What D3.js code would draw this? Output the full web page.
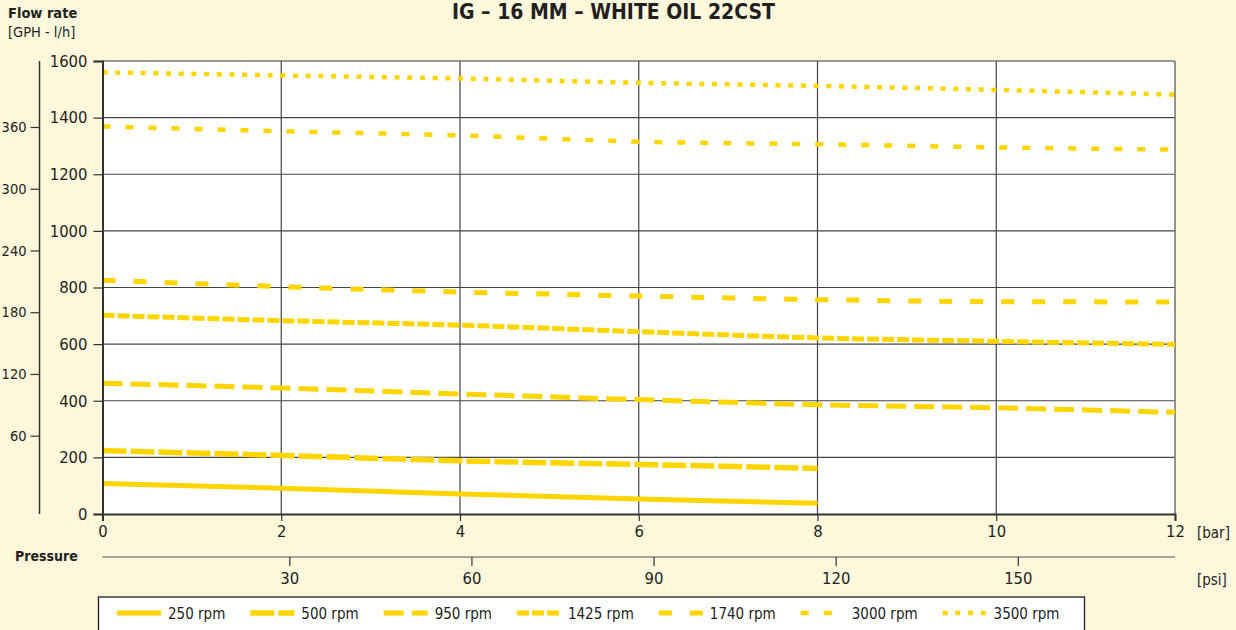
<!DOCTYPE html>
<html>
<head>
<meta charset="utf-8">
<script src="https://cdn.jsdelivr.net/npm/d3@7"></script>
<style>
  body { margin: 0; background: #fdf7dc; }
  svg { display: block; }
  text { font-family: "Liberation Sans Narrow", "Arial Narrow", "DejaVu Sans Condensed", sans-serif; fill: #231f20; }
</style>
</head>
<body>
<div id="chart"></div>
<script>
// pressure in bar, flow in l/h
var barTicks = [0, 2, 4, 6, 8, 10, 12];
var flowTicks = [0, 200, 400, 600, 800, 1000, 1200, 1400, 1600];
var gphTicks = [60, 120, 180, 240, 300, 360];
var psiTicks = [30, 60, 90, 120, 150];

var pressShort = [0, 2, 4, 6, 8];
var pressLong = [0, 2, 4, 6, 8, 10, 12];

var rpm = ["250 rpm", "500 rpm", "950 rpm", "1425 rpm", "1740 rpm", "3000 rpm", "3500 rpm"];
var flow250 = [108, 91, 71, 53, 38];
var flow500 = [224, 207, 188, 175, 161];
var flow950 = [462, 445, 424, 404, 386, 375, 359];
var flow1425 = [702, 683, 667, 644, 622, 610, 599];
var flow1740 = [826, 803, 784, 770, 757, 750, 749];
var flow3000 = [1369, 1352, 1337, 1315, 1306, 1295, 1287];
var flow3500 = [1560, 1549, 1538, 1523, 1512, 1498, 1481];

var yellow = "#ffd500";
var dashes = [null, "24,4", "20,8", "12,3", "13,18", "8,15", "5,7.7"];
var widths = [5, 5.5, 5, 5, 5, 4.5, 4.5];

var series = [
  { x: pressShort, y: flow250 },
  { x: pressShort, y: flow500 },
  { x: pressLong, y: flow950 },
  { x: pressLong, y: flow1425 },
  { x: pressLong, y: flow1740 },
  { x: pressLong, y: flow3000 },
  { x: pressLong, y: flow3500 }
];

var w = 1236;
var h = 630;

const x = d3.scaleLinear().domain([0, 12]).range([102.5, 1175]);
const y = d3.scaleLinear().domain([0, 1600]).range([514, 61]);
const gph = d3.scaleLinear().domain([60, 360]).range([435.7, 127]);
const psi = d3.scaleLinear().domain([30, 150]).range([289.3, 1017.8]);

const svg = d3.select("#chart").append("svg").attr("width", w).attr("height", h);

// plot background
svg.append("rect")
  .attr("x", x(0)).attr("y", y(1600))
  .attr("width", x(12) - x(0)).attr("height", y(0) - y(1600))
  .attr("fill", "#fff");

// grid
svg.append("g").selectAll("line")
  .data(flowTicks.slice(1))
  .enter().append("line")
  .attr("x1", x(0)).attr("x2", x(12))
  .attr("y1", (d) => y(d)).attr("y2", (d) => y(d))
  .attr("stroke", (d) => d == 1600 ? "#777" : "#444")
  .attr("stroke-width", (d) => d == 1600 ? 1.6 : 1.2);

svg.append("g").selectAll("line")
  .data(barTicks.slice(1))
  .enter().append("line")
  .attr("x1", (d) => x(d)).attr("x2", (d) => x(d))
  .attr("y1", y(0)).attr("y2", y(1600))
  .attr("stroke", (d) => d == 12 ? "#777" : "#444")
  .attr("stroke-width", (d) => d == 12 ? 1.6 : 1.2);

// curves
const line = d3.line().curve(d3.curveMonotoneX);
svg.append("g").selectAll("path")
  .data(series)
  .enter().append("path")
  .attr("d", (s) => line(s.x.map((p, i) => [x(p), y(s.y[i])])))
  .attr("fill", "none")
  .attr("stroke", yellow)
  .attr("stroke-width", (s, i) => widths[i])
  .attr("stroke-dasharray", (s, i) => dashes[i]);

// left (l/h) axis
const yAxis = d3.axisLeft(y).tickValues(flowTicks).tickSize(9).tickPadding(6).tickFormat(d3.format("d"));
const gy = svg.append("g").attr("transform", `translate(${x(0)},0)`).call(yAxis);
gy.select(".domain").attr("stroke", "#333").attr("stroke-width", 2);

// bottom (bar) axis
const xAxis = d3.axisBottom(x).tickValues(barTicks).tickSize(7).tickPadding(4).tickFormat(d3.format("d"));
const gx = svg.append("g").attr("transform", `translate(0,${y(0)})`).call(xAxis);
gx.select(".domain").attr("stroke", "#333").attr("stroke-width", 2);

// GPH axis
const gAxis = d3.axisLeft(gph).tickValues(gphTicks).tickSize(9).tickPadding(4).tickSizeOuter(0);
const gg = svg.append("g").attr("transform", "translate(39.5,0)").call(gAxis);
gg.select(".domain").attr("d", `M0,${y(1600)}V${y(0)}`).attr("stroke", "#333").attr("stroke-width", 1.5);

// psi axis
const pAxis = d3.axisBottom(psi).tickValues(psiTicks).tickSize(9).tickPadding(6).tickSizeOuter(0);
const gp = svg.append("g").attr("transform", "translate(0,557)").call(pAxis);
gp.select(".domain").attr("d", `M${x(0)},0H${x(12)}`).attr("stroke", "#555").attr("stroke-width", 1.2);

svg.selectAll(".tick line").attr("stroke", "#333").attr("stroke-width", 1.2);
svg.selectAll(".tick text").style("font-size", "16.5px").attr("fill", "#231f20");
gg.selectAll(".tick text").style("font-size", "14.5px");

// titles
svg.append("text").attr("x", 613.5).attr("y", 19).attr("text-anchor", "middle")
  .style("font-size", "21px").attr("font-weight", "bold").text("IG – 16 MM – WHITE OIL 22CST");
svg.append("text").attr("x", 8).attr("y", 18).style("font-size", "14.5px").attr("font-weight", "bold").text("Flow rate");
svg.append("text").attr("x", 8).attr("y", 37).style("font-size", "14.5px").text("[GPH - l/h]");
svg.append("text").attr("x", 15).attr("y", 561).style("font-size", "14px").attr("font-weight", "bold").text("Pressure");
svg.append("text").attr("x", 1197).attr("y", 538).style("font-size", "15px").text("[bar]");
svg.append("text").attr("x", 1197).attr("y", 585).style("font-size", "15px").text("[psi]");

// legend
svg.append("rect").attr("x", 98.5).attr("y", 597).attr("width", 986).attr("height", 50)
  .attr("fill", "#fff").attr("stroke", "#231f20").attr("stroke-width", 1.3);

var lx = 117;
rpm.forEach((label, i) => {
  svg.append("line")
    .attr("x1", lx).attr("x2", lx + 44).attr("y1", 613).attr("y2", 613)
    .attr("stroke", yellow).attr("stroke-width", widths[i])
    .attr("stroke-dasharray", dashes[i]);
  var t = svg.append("text").attr("x", lx + 51).attr("y", 619)
    .style("font-size", "15px").text(label);
  lx = lx + 51 + t.node().getComputedTextLength() + 25;
});
</script>
</body>
</html>
